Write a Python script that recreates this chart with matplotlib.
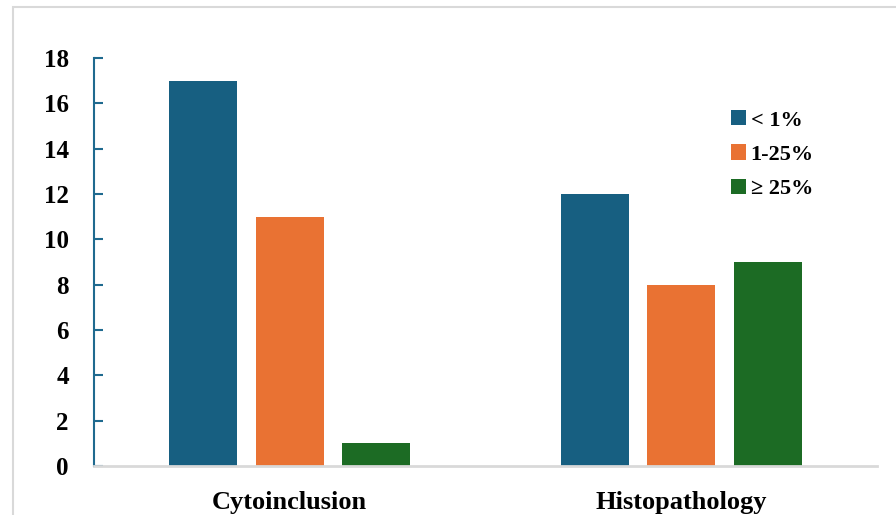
import matplotlib.pyplot as plt
import matplotlib.patches as mpatches
import numpy as np

# Data
categories = ["Cytoinclusion", "Histopathology"]
series_names = ["< 1%", "1-25%", "\u2265 25%"]
lt1 = [17, 12]
mid = [11, 8]
ge25 = [1, 9]
yticks = [0, 2, 4, 6, 8, 10, 12, 14, 16, 18]

colors = ["#175f81", "#e97233", "#1c6b24"]

plt.rcParams['font.family'] = ['Liberation Serif', 'DejaVu Serif']
plt.rcParams['font.weight'] = 'bold'

fig = plt.figure(figsize=(8.96, 5.15), dpi=100)
ax = fig.add_axes([0.1049, 0.0951, 0.8739, 0.7923])

# outer light frame
fig.patches.append(mpatches.Rectangle((13 / 896, -0.1), 1.2, (515 - 7) / 515 + 0.1,
                                      transform=fig.transFigure, fill=False,
                                      edgecolor="#d9d9d9", lw=1.5))

x = np.arange(len(categories))
width = 0.174
step = 0.221
for i, (vals, name) in enumerate(zip([lt1, mid, ge25], series_names)):
    ax.bar(x + (i - 1) * step, vals, width, color=colors[i], label=name)

ax.set_xlim(-0.5, 1.5)
ax.set_ylim(0, 18)
ax.set_yticks(yticks)
ax.set_xticks(x)
ax.set_xticklabels(categories)

for s in ["top", "right"]:
    ax.spines[s].set_visible(False)
ax.spines["left"].set_color("#1f6a8f")
ax.spines["left"].set_linewidth(1.5)
ax.spines["bottom"].set_color("#d9d9d9")
ax.spines["bottom"].set_linewidth(2)

ax.tick_params(axis="y", direction="in", length=6.5, width=1.5, color="#1f6a8f",
               labelsize=18, pad=18)
ax.tick_params(axis="x", length=0, labelsize=19, pad=18)

ax.legend(loc="upper left", bbox_to_anchor=(0.8135, 0.872), frameon=False,
          fontsize=16, handlelength=0.68, handleheight=0.68, handletextpad=0.2,
          labelspacing=0.62, borderpad=0, borderaxespad=0)

fig.savefig("out.png", dpi=100)
